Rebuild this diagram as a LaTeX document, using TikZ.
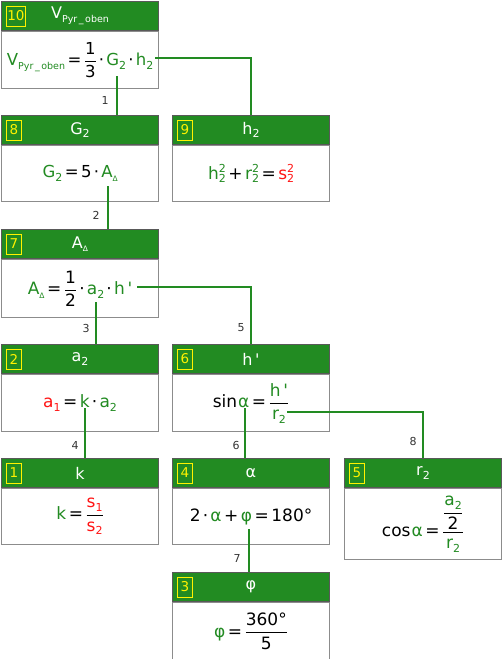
\documentclass[tikz,border=0pt]{standalone}
\usepackage{amsmath}
\usepackage{fontspec}
\setmainfont{DejaVu Sans}
\newfontfamily\dv{DejaVu Sans}
\definecolor{hg}{RGB}{34,139,34}
\definecolor{fg}{RGB}{34,139,34}
\definecolor{fr}{RGB}{255,20,20}
\definecolor{lg}{RGB}{34,139,34}
\newcommand{\gr}[1]{\textcolor{fg}{#1}}
\newcommand{\rd}[1]{\textcolor{fr}{#1}}
\newcommand{\lo}[1]{\raisebox{-3.5pt}{\fontsize{11}{12}\selectfont #1}}
\newcommand{\los}[1]{\raisebox{-3.5pt}{\fontsize{9.5}{11}\selectfont #1}}
\newcommand{\lod}[1]{\raisebox{-3.5pt}{\fontsize{7.5}{9}\selectfont #1}}
\newcommand{\lohi}[1]{\rlap{\raisebox{6.5pt}{\fontsize{11}{12}\selectfont #1}}\raisebox{-3.5pt}{\fontsize{11}{12}\selectfont #1}}
\newcommand{\fra}[2]{$\genfrac{}{}{0.9pt}{0}{\text{#1}}{\text{#2}}$}
\newcommand{\ap}{\,\char"0027}
\newcommand{\eq}{\hspace{2.5pt}=\hspace{2.5pt}}
\newcommand{\pl}{\hspace{2.5pt}+\hspace{2.5pt}}
\newcommand{\md}{\hspace{2.2pt}·\hspace{2.2pt}}
\tikzset{
  every node/.style={font=\dv\fontsize{16}{18}\selectfont},
  hdr/.style={draw=gray!70!black, fill=hg, text=white, minimum width=157pt, minimum height=29pt, inner sep=0pt, anchor=north west, line width=1pt},
  bodybox/.style={draw=gray!90, fill=white, minimum width=157pt, inner sep=0pt, anchor=north west, line width=1.2pt, font=\dv\fontsize{17}{20}\selectfont},
  bigf/.style={font=\dv\fontsize{16.5}{20}\selectfont},
  badge/.style={draw=yellow, text=yellow, line width=0.8pt, minimum width=15pt, minimum height=20pt, inner sep=1pt, anchor=west, font=\dv\fontsize{13.5}{15}\selectfont},
  conn/.style={draw=lg, line width=2pt},
  lbl/.style={font=\dv\fontsize{11}{13}\selectfont, text=black!80}
}
\begin{document}
\begin{tikzpicture}[x=1pt,y=-1pt]
\useasboundingbox (0,0) rectangle (502,659);
% Box 10
\node[hdr] (h10) at (1,1) {V\los{Pyr\,\_\,oben}\hspace{14pt}};
\node[badge] (n10) at ([xshift=5pt]h10.west) {10};
\node[bodybox, bigf, minimum height=57pt] (b10) at (h10.south west) {\gr{V\los{Pyr\,\_\,oben}}\eq\fra{1}{3}\md\gr{G\lo{2}}\md\gr{h\lo{2}}};
% Box 8
\node[hdr] (h8) at (1,115) {G\lo{2}};
\node[badge] (n8) at ([xshift=5pt]h8.west) {8};
\node[bodybox, bigf, minimum height=56pt] (b8) at (h8.south west) {\gr{G\lo{2}}\eq5\md\gr{A\lod{Δ}}};
% Box 9
\node[hdr] (h9) at (172,115) {h\lo{2}};
\node[badge] (n9) at ([xshift=5pt]h9.west) {9};
\node[bodybox, minimum height=56pt] (b9) at (h9.south west) {\gr{h\lohi{2}}\pl\gr{r\lohi{2}}\eq\rd{s\lohi{2}}};
% Box 7
\node[hdr] (h7) at (1,229) {A\lod{Δ}};
\node[badge] (n7) at ([xshift=5pt]h7.west) {7};
\node[bodybox, minimum height=58pt] (b7) at (h7.south west) {\gr{A\lod{Δ}}\eq\fra{1}{2}\md\gr{a\lo{2}}\md\gr{h\ap}};
% Box 2
\node[hdr] (h2) at (1,344) {a\lo{2}};
\node[badge] (n2) at ([xshift=5pt]h2.west) {2};
\node[bodybox, minimum height=57pt] (b2) at (h2.south west) {\rd{a\lo{1}}\eq\gr{k}\md\gr{a\lo{2}}};
% Box 6
\node[hdr] (h6) at (172,344) {h\ap};
\node[badge] (n6) at ([xshift=5pt]h6.west) {6};
\node[bodybox, minimum height=57pt] (b6) at (h6.south west) {sin\hspace{1pt}\gr{α}\eq$\genfrac{}{}{0.9pt}{0}{\text{\gr{h\ap}}}{\text{\gr{r\lo{2}}}}$};
% Box 1
\node[hdr] (h1) at (1,458) {k};
\node[badge] (n1) at ([xshift=5pt]h1.west) {1};
\node[bodybox, minimum height=56pt] (b1) at (h1.south west) {\gr{k}\eq$\genfrac{}{}{0.9pt}{0}{\text{\rd{s\lo{1}}}}{\text{\rd{s\lo{2}}}}$};
% Box 4
\node[hdr] (h4) at (172,458) {α};
\node[badge] (n4) at ([xshift=5pt]h4.west) {4};
\node[bodybox, minimum height=56pt] (b4) at (h4.south west) {2\md\gr{α}\pl\gr{φ}\eq180°};
% Box 5
\node[hdr] (h5) at (344,458) {r\lo{2}};
\node[badge] (n5) at ([xshift=5pt]h5.west) {5};
\node[bodybox, minimum height=71pt] (b5) at (h5.south west) {cos\hspace{1pt}\gr{α}\eq$\genfrac{}{}{0.9pt}{0}{\genfrac{}{}{0.9pt}{0}{\text{\gr{a\lo{2}}}}{\text{2}}}{\text{\gr{r\lo{2}}}}$};
% Box 3
\node[hdr] (h3) at (172,572) {φ};
\node[badge] (n3) at ([xshift=5pt]h3.west) {3};
\node[bodybox, minimum height=57pt] (b3) at (h3.south west) {\gr{φ}\eq\fra{360°}{5}};
% connectors
\coordinate (p1) at (117,76);
\coordinate (p9) at (155,57.5);
\coordinate (p2) at (108,186);
\coordinate (p3) at (96,302);
\coordinate (p5) at (137,286.5);
\coordinate (p4) at (85,408);
\coordinate (p6) at (245,408);
\coordinate (p8) at (287,412);
\coordinate (p7) at (249,529);
\draw[conn] (p1) -- (p1 |- h8.north);
\draw[conn] (p9) -| (h9.north);
\draw[conn] (p2) -- (p2 |- h7.north);
\draw[conn] (p3) -- (p3 |- h2.north);
\draw[conn] (p5) -| (h6.north);
\draw[conn] (p4) -- (p4 |- h1.north);
\draw[conn] (p6) -- (p6 |- h4.north);
\draw[conn] (p8) -| (h5.north);
\draw[conn] (p7) -- (p7 |- h3.north);
% labels
\node[lbl] (l1) at (105,100) {1};
\node[lbl] (l2) at (96,215) {2};
\node[lbl] (l3) at (86,328) {3};
\node[lbl] (l5) at (241,328) {5};
\node[lbl] (l4) at (75,445) {4};
\node[lbl] (l6) at (236,445) {6};
\node[lbl] (l7) at (237,558) {7};
\node[lbl] (l8) at (413,441) {8};
\end{tikzpicture}
\end{document}
